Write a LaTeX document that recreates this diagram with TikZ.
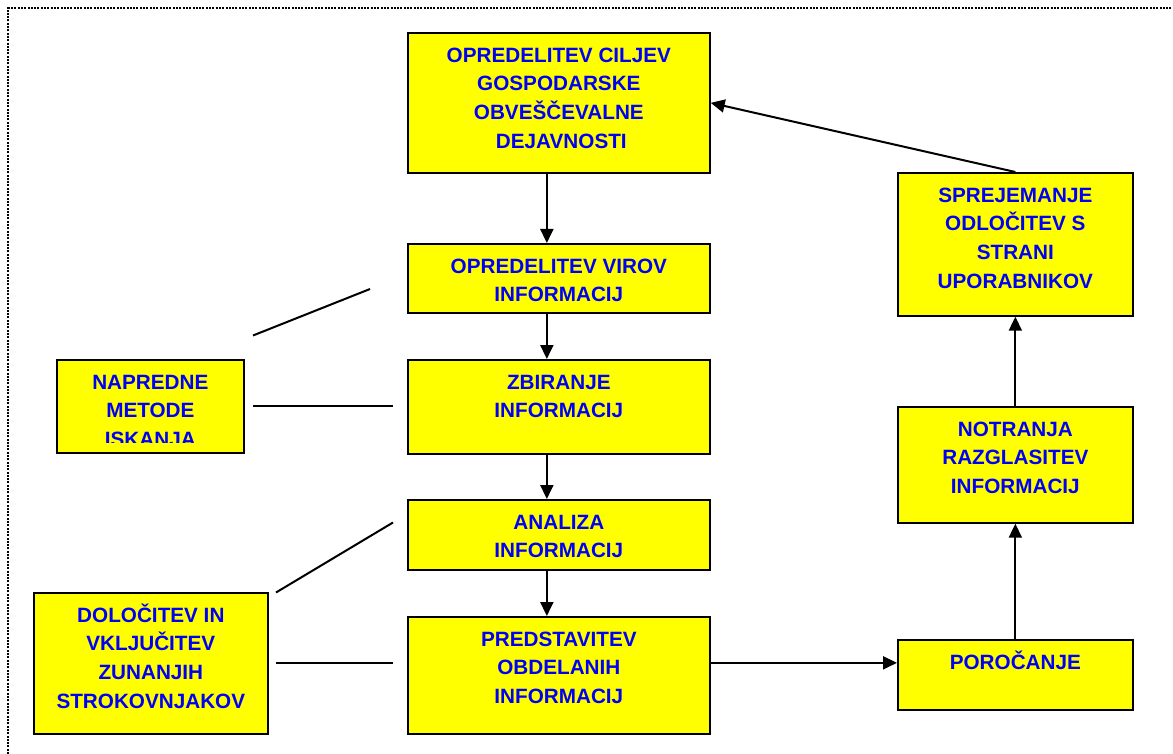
\documentclass[tikz,border=0pt]{standalone}
\usepackage{fontspec}
\setmainfont{Liberation Sans}
\usetikzlibrary{arrows.meta}
\definecolor{boxyellow}{RGB}{255,255,0}
\definecolor{txtblue}{RGB}{0,0,245}
\tikzset{
  box/.style={draw=black, line width=1.7pt, fill=boxyellow, rectangle, inner sep=0pt, anchor=north west},
  txt/.style={text=txtblue, font=\fontsize{20.7}{28.7}\selectfont\bfseries, align=center, inner sep=0pt, anchor=north},
  arr/.style={line width=2pt, -{Triangle[length=14pt,width=13pt]}},
  plain/.style={line width=2pt},
  frame/.style={line width=2.2pt, dash pattern=on 2pt off 1.3pt, black}
}
\begin{document}
\begin{tikzpicture}[x=1pt,y=-1pt]
\useasboundingbox (0,0) rectangle (1173,754);
% dotted frame
\draw[frame] (8,754) -- (8,8) -- (1173,8);

% central column
\node[box, minimum width=302pt, minimum height=140pt] (b1) at (407,32) {};
\node[box, minimum width=302pt, minimum height=69pt] (b2) at (407,243) {};
\node[box, minimum width=302pt, minimum height=94pt] (b3) at (407,359) {};
\node[box, minimum width=302pt, minimum height=70pt] (b4) at (407,499) {};
\node[box, minimum width=302pt, minimum height=117pt] (b5) at (407,616) {};
% left boxes
\node[box, minimum width=187pt, minimum height=93pt] (n1) at (56,359) {};
\node[box, minimum width=234pt, minimum height=141pt] (n2) at (33,592) {};
% right column
\node[box, minimum width=235pt, minimum height=143pt] (r1) at (897,172) {};
\node[box, minimum width=235pt, minimum height=116pt] (r2) at (897,406) {};
\node[box, minimum width=235pt, minimum height=70pt] (r3) at (897,639) {};

% texts
\node[txt] (b1t) at ([yshift=-10pt]b1.north) {\strut OPREDELITEV CILJEV\\GOSPODARSKE\\OBVEŠČEVALNE\\\hspace{5pt}DEJAVNOSTI};
\node[txt] (b2t) at ([yshift=-10pt]b2.north) {\strut OPREDELITEV VIROV\\INFORMACIJ};
\node[txt] (b3t) at ([yshift=-10pt]b3.north) {\strut ZBIRANJE\\INFORMACIJ};
\node[txt] (b4t) at ([yshift=-10pt]b4.north) {\strut ANALIZA\\INFORMACIJ};
\node[txt] (b5t) at ([yshift=-10pt]b5.north) {\strut PREDSTAVITEV\\OBDELANIH\\INFORMACIJ};
\begin{scope}
  \clip (56,359) rectangle (243,442);
  \node[txt] (n1t) at ([yshift=-10pt]n1.north) {\strut NAPREDNE\\METODE\\ISKANJA};
\end{scope}
\node[txt] (n2t) at ([yshift=-10pt]n2.north) {\strut DOLOČITEV IN\\VKLJUČITEV\\ZUNANJIH\\STROKOVNJAKOV};
\node[txt] (r1t) at ([yshift=-10pt]r1.north) {\strut SPREJEMANJE\\ODLOČITEV S\\STRANI\\UPORABNIKOV};
\node[txt] (r2t) at ([yshift=-10pt]r2.north) {\strut NOTRANJA\\RAZGLASITEV\\INFORMACIJ};
\node[txt] (r3t) at ([yshift=-10pt]r3.north) {\strut POROČANJE};

% arrows central column
\draw[arr] ([xshift=-12pt]b1.south) -- ([xshift=-12pt]b2.north);
\draw[arr] ([xshift=-12pt]b2.south) -- ([xshift=-12pt]b3.north);
\draw[arr] ([xshift=-12pt]b3.south) -- ([xshift=-12pt]b4.north);
\draw[arr] ([xshift=-12pt]b4.south) -- ([xshift=-12pt]b5.north);
% to the right
\draw[arr] ([yshift=12.5pt]b5.east) -- ([yshift=12.5pt]b5.east -| r3.west);
\draw[arr] (r3.north) -- (r2.south);
\draw[arr] (r2.north) -- (r1.south);
\draw[arr] (r1.north) -- (b1.east);

% free lines
\coordinate (l1a) at (253,335.5);
\coordinate (l1b) at (370,289);
\coordinate (l2a) at (253,406);
\coordinate (l2b) at (393,406);
\coordinate (l3a) at (276,592.5);
\coordinate (l3b) at (393,522.5);
\coordinate (l4a) at (276,662.5);
\coordinate (l4b) at (393,662.5);
\draw[plain] (l1a) -- (l1b);
\draw[plain] (l2a) -- (l2b);
\draw[plain] (l3a) -- (l3b);
\draw[plain] (l4a) -- (l4b);
\end{tikzpicture}
\end{document}
